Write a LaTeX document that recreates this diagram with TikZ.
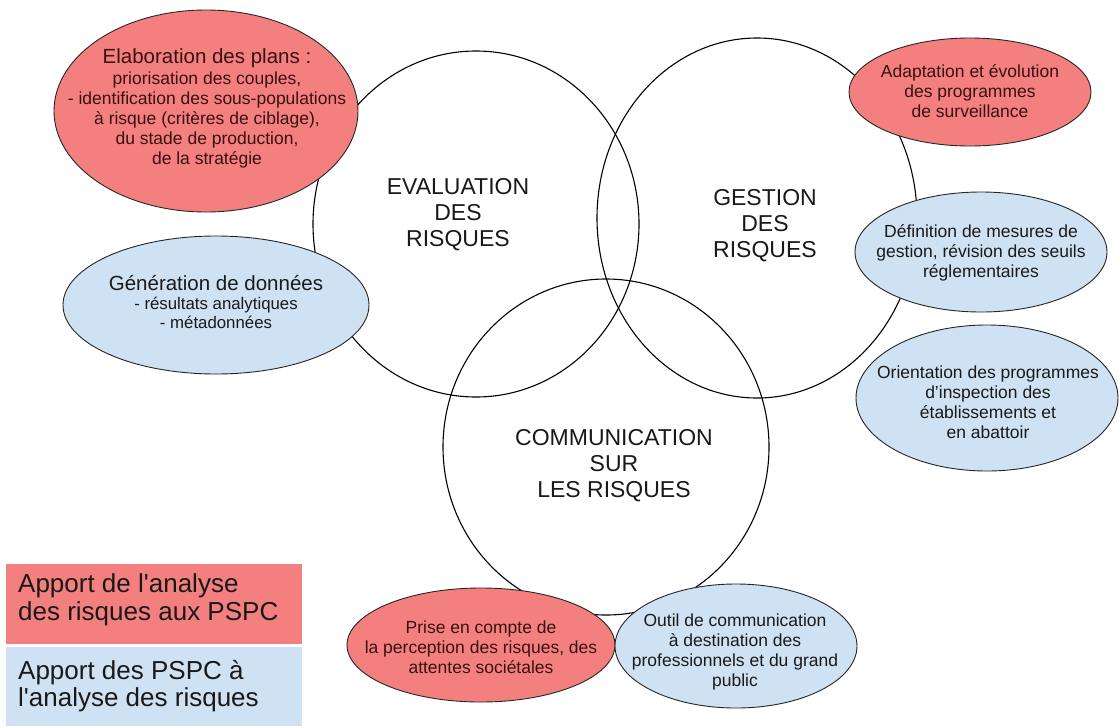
\documentclass[tikz,border=0pt]{standalone}
\usepackage{fontspec}
\setmainfont{Liberation Sans}
\usetikzlibrary{shapes.geometric}
\definecolor{rfill}{HTML}{F3807F}
\definecolor{bfill}{HTML}{CFE2F3}
\definecolor{rtext}{HTML}{3A1010}
\definecolor{btext}{HTML}{1A1A1A}
\begin{document}
\begin{tikzpicture}[x=1pt,y=-1pt,
  ring/.style={ellipse, draw=black, line width=1.1pt, inner sep=0pt},
  redell/.style={ellipse, draw=black!85, line width=0.9pt, fill=rfill, inner sep=0pt},
  blueell/.style={ellipse, draw=black!85, line width=0.9pt, fill=bfill, inner sep=0pt},
  bigtext/.style={align=center, text=black!90, font=\fontsize{23}{26}\selectfont, inner sep=0pt},
  rtxt/.style={align=center, text=rtext, font=\fontsize{17.5}{20}\selectfont, inner sep=0pt},
  btxt/.style={align=center, text=btext, font=\fontsize{17.5}{20}\selectfont, inner sep=0pt},
  legtxt/.style={align=left, text=black!90, font=\fontsize{26}{27.5}\selectfont, inner sep=0pt, anchor=west}
]
\useasboundingbox (0,0) rectangle (1119,726);
\fill[white] (0,0) rectangle (1119,726);

% main circles
\node[ring, minimum width=326, minimum height=346] (eval) at (476,224) {};
\node[ring, minimum width=320, minimum height=360] (gest) at (757,218) {};
\node[ring, minimum width=326, minimum height=336] (comm) at (606,447) {};

\node[bigtext] (evaltxt) at (458,215) {EVALUATION\\DES\\RISQUES};
\node[bigtext] (gesttxt) at (765,226) {GESTION\\DES\\RISQUES};
\node[bigtext] (commtxt) at (614,466) {COMMUNICATION\\SUR\\LES RISQUES};

% ellipses
\node[redell, minimum width=304, minimum height=202] (e1) at (206,111) {};
\node[rtxt] (t1) at (207,108) {{\fontsize{20.5}{21}\selectfont Elaboration des plans :}\\[1pt]
priorisation des couples,\\- identification des sous-populations\\à risque (critères de ciblage),\\du stade de production,\\de la stratégie};

\node[blueell, minimum width=306, minimum height=138] (e5) at (216,305) {};
\node[btxt] (t5) at (216,302) {{\fontsize{20.5}{21}\selectfont Génération de données}\\[-1pt]
{\fontsize{16.8}{19}\selectfont - résultats analytiques}\\[-1pt]{\fontsize{16.8}{19}\selectfont - métadonnées}};

\node[redell, minimum width=242, minimum height=108] (e2) at (970,92) {};
\node[rtxt] (t2) at (970,91) {Adaptation et évolution\\des programmes\\de surveillance};

\node[blueell, minimum width=252, minimum height=120] (e3) at (981,252) {};
\node[btxt] (t3) at (981,253) {Définition de mesures de\\gestion, révision des seuils\\réglementaires};

\node[blueell, minimum width=262, minimum height=146] (e4) at (987,398) {};
\node[btxt] (t4) at (988,402) {Orientation des programmes\\d’inspection des\\établissements et\\en abattoir};

\node[redell, minimum width=268, minimum height=114] (e6) at (481,645) {};
\node[rtxt] (t6) at (481,647) {Prise en compte de\\la perception des risques, des\\attentes sociétales};

\node[blueell, minimum width=242, minimum height=124] (e7) at (736,646) {};
\node[btxt] (t7) at (735,652) {Outil de communication\\à destination des\\professionnels et du grand\\public};

% legend
\fill[rfill] (6,564) rectangle (302,644);
\fill[bfill] (6,647) rectangle (302,726);
\node[legtxt] (l1) at (18,600) {Apport de l\textquotesingle analyse\\des risques aux PSPC};
\node[legtxt] (l2) at (18,686) {Apport des PSPC à\\l\textquotesingle analyse des risques};
\end{tikzpicture}
\end{document}
